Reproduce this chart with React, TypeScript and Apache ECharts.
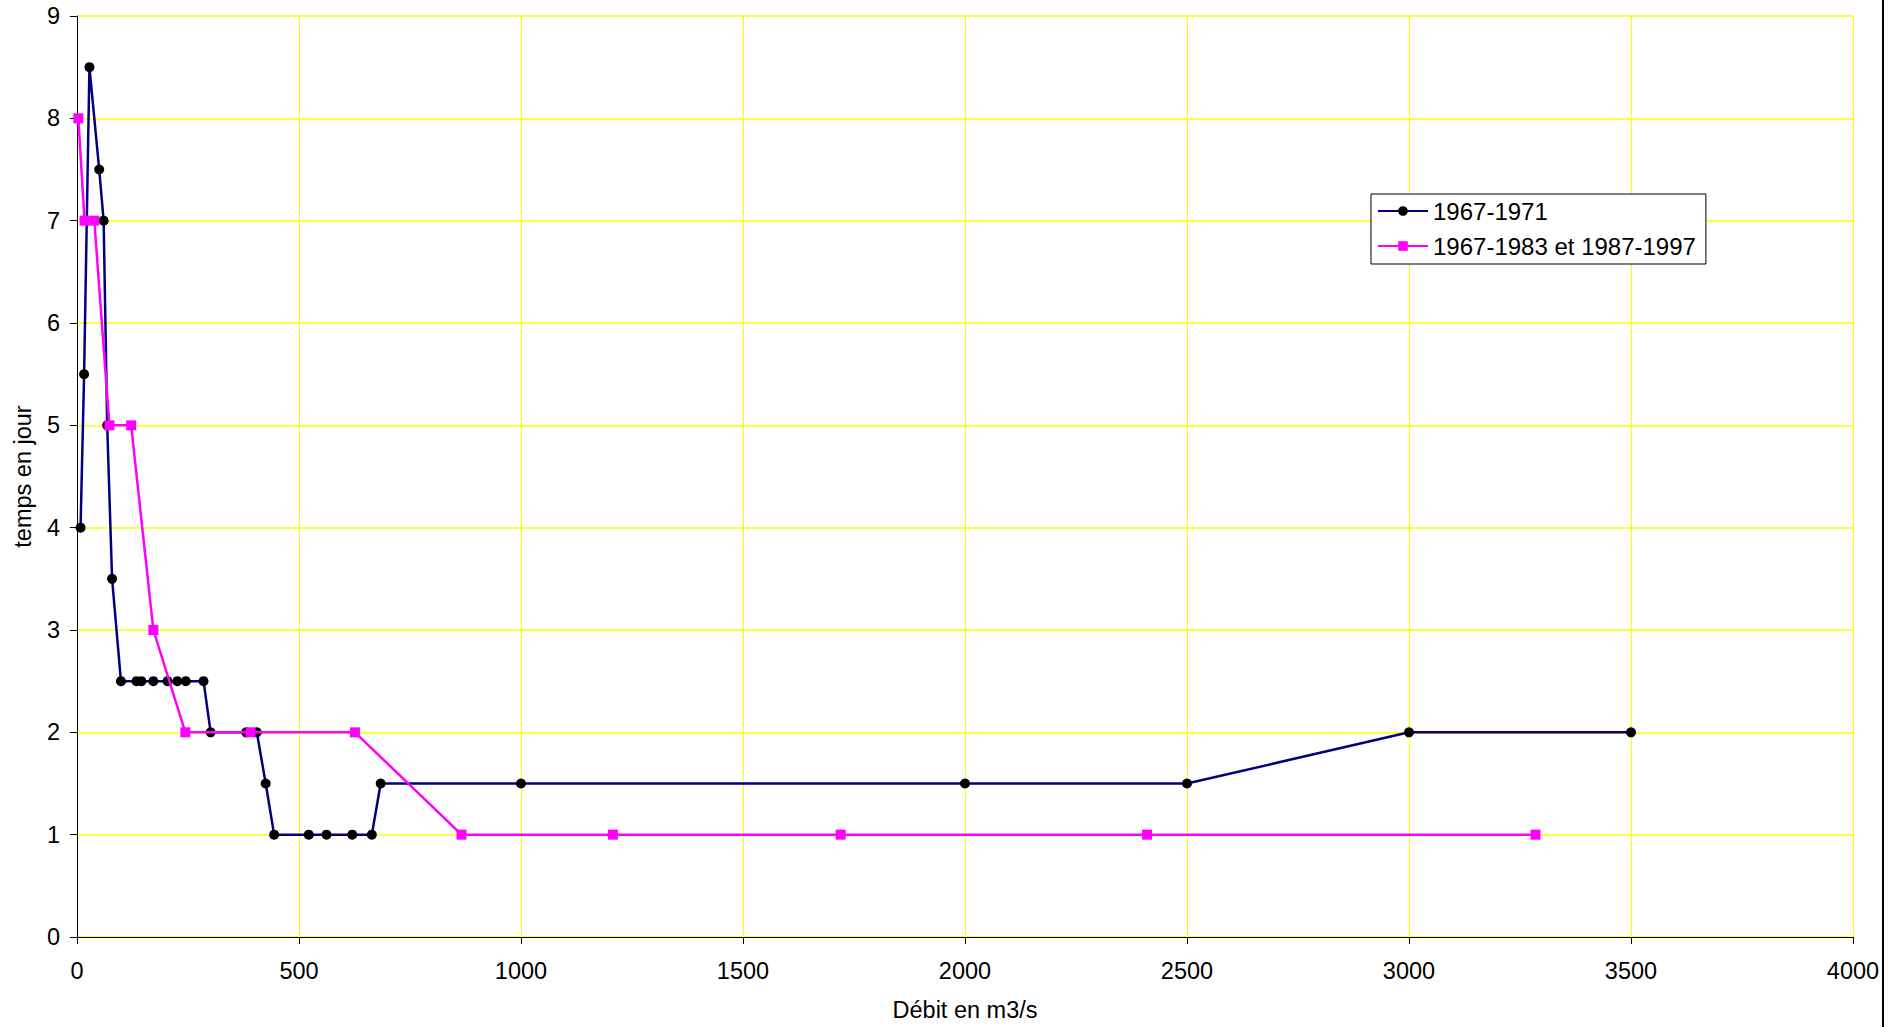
import React, { useEffect, useRef } from "react";
import * as echarts from "echarts";

// Débit (m3/s) and temps (jours), période 1967-1971
const debit6771 = [8, 16, 28, 50, 60, 68, 79, 99, 134, 145, 172, 204, 226, 245, 285, 301, 381, 405, 425, 444, 522, 562, 620, 664, 684, 1000, 2000, 2500, 3000, 3500];
const temps6771 = [4, 5.5, 8.5, 7.5, 7, 5, 3.5, 2.5, 2.5, 2.5, 2.5, 2.5, 2.5, 2.5, 2.5, 2, 2, 2, 1.5, 1, 1, 1, 1, 1, 1.5, 1.5, 1.5, 1.5, 2, 2];

// Périodes 1967-1983 et 1987-1997
const debit6797 = [3, 17, 39, 73, 122, 172, 244, 391, 626, 866, 1207, 1720, 2410, 3285];
const temps6797 = [8, 7, 7, 5, 5, 3, 2, 2, 2, 1, 1, 1, 1, 1];

const seriesNames = ["1967-1971", "1967-1983 et 1987-1997"];
const xTicks = { min: 0, max: 4000, interval: 500 };
const yTicks = { min: 0, max: 9, interval: 1 };

const FONT = "'Liberation Sans', Arial, sans-serif";
const FS = 23.5;

export default function App() {
  const ref = useRef<HTMLDivElement>(null);

  useEffect(() => {
    if (!ref.current) return;
    const chart = echarts.init(ref.current, undefined, { renderer: "svg" });
    const pairs = (xs: number[], ys: number[]) => xs.map((x, i) => [x, ys[i]]);

    chart.setOption({
      animation: false,
      backgroundColor: "#ffffff",
      textStyle: { fontFamily: FONT, color: "#000" },
      grid: { left: 77, right: 48, top: 16, bottom: 90, containLabel: false },
      legend: {
        orient: "vertical",
        left: 1371,
        top: 194,
        padding: [5, 10, 6, 6],
        itemWidth: 50,
        itemHeight: 12,
        itemGap: 11,
        borderColor: "#000",
        borderWidth: 1,
        backgroundColor: "#fff",
        textStyle: { fontFamily: FONT, fontSize: 24, color: "#000", padding: [0, 0, 0, 0], lineHeight: 24 },
        data: seriesNames,
      },
      xAxis: {
        type: "value",
        min: xTicks.min,
        max: xTicks.max,
        interval: xTicks.interval,
        name: "Débit en m3/s",
        nameLocation: "middle",
        nameGap: 61,
        nameTextStyle: { fontFamily: FONT, fontSize: FS, color: "#000" },
        axisLine: { show: true, onZero: false, lineStyle: { color: "#000", width: 1 } },
        axisTick: { show: true, inside: false, length: 7, lineStyle: { color: "#000" } },
        axisLabel: {
          fontFamily: FONT,
          fontSize: FS,
          color: "#000",
          margin: 22,
          formatter: (v: number) => String(v),
        },
        splitLine: { show: true, lineStyle: { color: "#ffff00", width: 1 } },
      },
      yAxis: {
        type: "value",
        min: yTicks.min,
        max: yTicks.max,
        interval: yTicks.interval,
        name: "temps en jour",
        nameLocation: "middle",
        nameGap: 42,
        nameTextStyle: { fontFamily: FONT, fontSize: FS, color: "#000" },
        axisLine: { show: true, onZero: false, lineStyle: { color: "#000", width: 1 } },
        axisTick: { show: true, inside: false, length: 7, lineStyle: { color: "#000" } },
        axisLabel: { fontFamily: FONT, fontSize: FS, color: "#000", margin: 17 },
        splitLine: { show: true, lineStyle: { color: "#ffff00", width: 1.5 } },
      },
      graphic: [
        {
          type: "line",
          shape: { x1: 1883, y1: 0, x2: 1883, y2: 1027 },
          style: { stroke: "#000", lineWidth: 2 },
        },
      ],
      series: [
        {
          name: seriesNames[0],
          type: "line",
          data: pairs(debit6771, temps6771),
          symbol: "circle",
          symbolSize: 10,
          itemStyle: { color: "#000000" },
          lineStyle: { color: "#000080", width: 2.5 },
          z: 3,
        },
        {
          name: seriesNames[1],
          type: "line",
          data: pairs(debit6797, temps6797),
          symbol: "rect",
          symbolSize: 10,
          itemStyle: { color: "#ff00ff" },
          lineStyle: { color: "#ff00ff", width: 2.5 },
          z: 4,
        },
      ],
    });

    return () => chart.dispose();
  }, []);

  return (
    <div
      ref={ref}
      style={{ position: "absolute", left: 0, top: 0, width: 1901, height: 1027 }}
    />
  );
}
